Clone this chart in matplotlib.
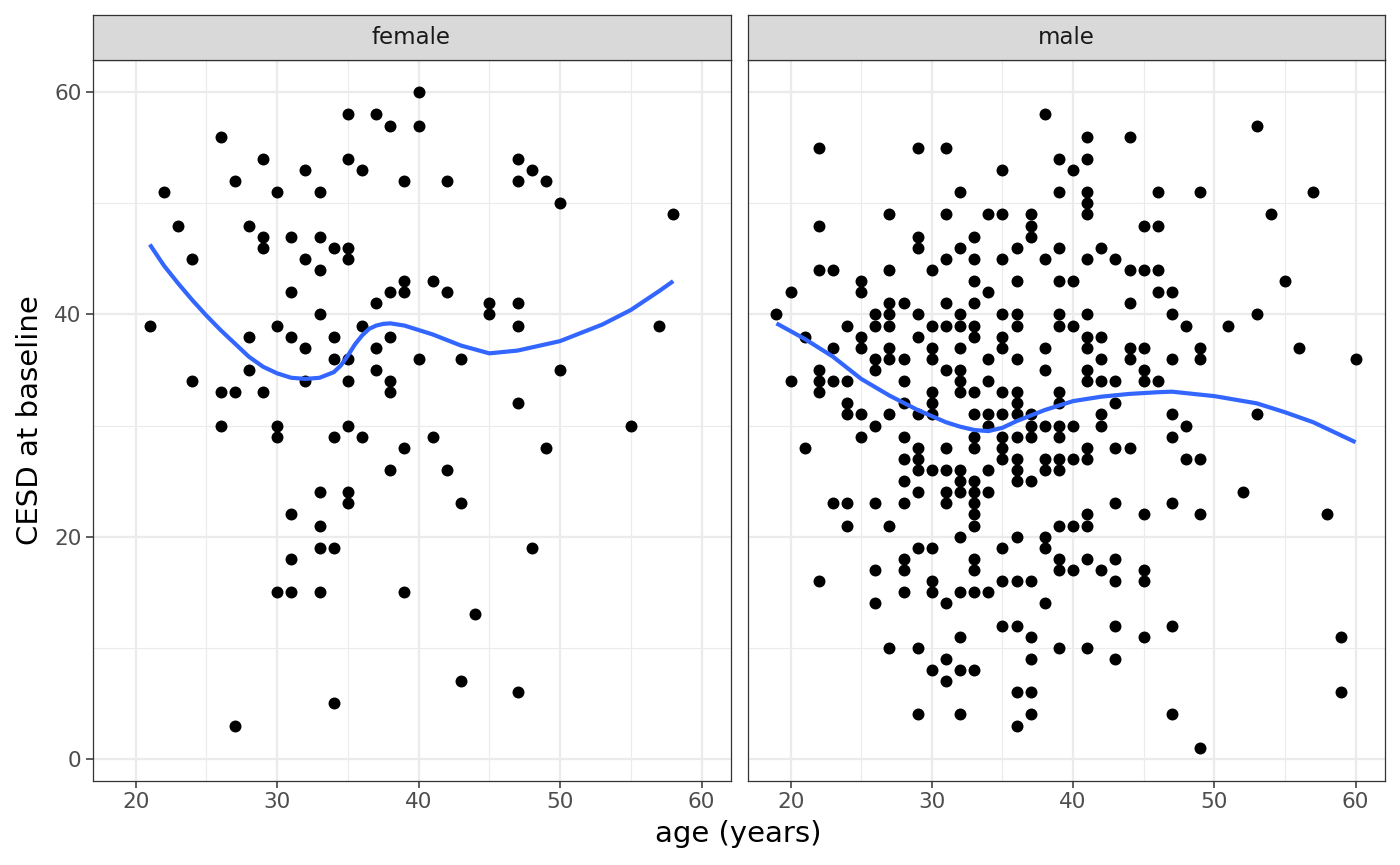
import numpy as np
import matplotlib
matplotlib.use("Agg")
import matplotlib.pyplot as plt
from matplotlib.ticker import MultipleLocator

# ---------------- data ----------------
panel_labels = ["female", "male"]

female_ages = [21, 22, 23, 24, 26, 27, 28, 29, 30, 31, 32, 33, 34, 35, 36, 37, 38,
               39, 40, 41, 42, 43, 44, 45, 47, 48, 49, 50, 55, 57, 58]
female_cesd_by_age = [
    [39], [51], [48], [45, 34], [56, 33, 30], [52, 33, 3], [48, 38, 35],
    [54, 47, 46, 33], [51, 39, 30, 29, 15], [47, 42, 38, 22, 18, 15],
    [53, 45, 37, 34], [51, 47, 44, 40, 24, 21, 19, 15], [46, 38, 36, 29, 19, 5],
    [58, 54, 46, 45, 36, 34, 30, 24, 23], [53, 39, 29], [58, 41, 37, 35],
    [57, 42, 38, 34, 33, 26], [52, 43, 42, 28, 15], [60, 57, 36], [43, 29],
    [52, 42, 26], [36, 23, 7], [13], [41, 40], [54, 52, 41, 39, 32, 6],
    [53, 19], [52, 28], [50, 35], [30], [39], [49],
]

male_ages = [19, 20, 21, 22, 23, 24, 25, 26, 27, 28, 29, 30, 31, 32, 33, 34, 35,
             36, 37, 38, 39, 40, 41, 42, 43, 44, 45, 46, 47, 48, 49, 51, 52, 53,
             54, 55, 56, 57, 58, 59, 60]
male_cesd_by_age = [
    [40],
    [42, 34],
    [38, 28],
    [55, 48, 44, 35, 34, 33, 16],
    [44, 37, 34, 23],
    [39, 34, 32, 31, 23, 21],
    [43, 42, 38, 37, 31, 29],
    [40, 39, 36, 35, 30, 23, 17, 14],
    [49, 44, 41, 40, 39, 37, 36, 31, 21, 10],
    [41, 36, 34, 32, 29, 27, 25, 23, 18, 17, 15],
    [55, 47, 46, 40, 38, 31, 28, 27, 26, 24, 19, 10, 4],
    [44, 39, 37, 36, 33, 32, 31, 26, 19, 16, 15, 8],
    [55, 49, 45, 41, 39, 35, 28, 26, 24, 23, 14, 9, 7],
    [51, 46, 40, 39, 37, 35, 34, 33, 26, 25, 24, 20, 15, 11, 8, 4],
    [47, 45, 43, 41, 39, 38, 33, 31, 29, 28, 25, 24, 23, 22, 21, 18, 17, 15, 8],
    [49, 42, 36, 34, 31, 30, 26, 24, 15],
    [53, 49, 45, 40, 38, 37, 33, 31, 29, 28, 27, 19, 16, 12],
    [46, 43, 40, 39, 36, 33, 32, 31, 29, 27, 26, 25, 20, 16, 12, 6, 3],
    [49, 48, 47, 31, 30, 29, 25, 16, 11, 9, 6, 4],
    [58, 45, 37, 35, 30, 27, 26, 20, 19, 14],
    [54, 51, 46, 43, 40, 39, 33, 32, 30, 29, 27, 26, 21, 18, 17, 10],
    [53, 43, 39, 30, 27, 21, 17],
    [56, 54, 51, 50, 49, 45, 40, 38, 37, 35, 34, 28, 27, 22, 21, 18, 10],
    [46, 38, 36, 34, 31, 30, 17],
    [45, 34, 32, 28, 23, 18, 16, 12, 9],
    [56, 44, 41, 37, 36, 28],
    [48, 44, 37, 35, 34, 22, 17, 16, 11],
    [51, 48, 44, 42, 34],
    [42, 40, 36, 31, 29, 23, 12, 4],
    [39, 30, 27],
    [51, 37, 36, 27, 22, 1],
    [39], [24], [57, 40, 31], [49], [43], [37], [51], [22], [11, 6], [36],
]

# loess smooth curves
female_smooth_age = [21, 22, 23, 24, 25, 26, 27, 28, 29, 30, 31, 32, 33, 34, 34.5,
                     35, 35.5, 36, 36.5, 37, 37.5, 38, 39, 40, 41, 43, 45, 47, 50,
                     53, 55, 57, 58]
female_smooth_cesd = [46.3, 44.4, 42.8, 41.3, 39.9, 38.6, 37.4, 36.2, 35.3, 34.7,
                      34.3, 34.2, 34.3, 34.8, 35.4, 36.3, 37.3, 38.1, 38.7, 39.0,
                      39.15, 39.2, 39.0, 38.6, 38.2, 37.2, 36.5, 36.75, 37.6, 39.1,
                      40.4, 42.1, 43.0]
male_smooth_age = [19, 21, 23, 25, 27, 29, 31, 32, 33, 34, 35, 36, 38, 40, 42, 44,
                   46, 47, 50, 53, 55, 57, 58, 59, 60]
male_smooth_cesd = [39.2, 37.8, 36.2, 34.2, 32.7, 31.4, 30.3, 29.9, 29.6, 29.5,
                    29.8, 30.4, 31.4, 32.2, 32.6, 32.85, 33.0, 33.05, 32.65, 32.0,
                    31.2, 30.3, 29.7, 29.1, 28.5]

x_ticks = [20, 30, 40, 50, 60]
y_ticks = [0, 20, 40, 60]
x_title = "age (years)"
y_title = "CESD at baseline"


def flatten(ages, groups):
    a = np.concatenate([np.full(len(g), age) for age, g in zip(ages, groups)])
    c = np.concatenate([np.asarray(g, dtype=float) for g in groups])
    return a, c


fa, fc = flatten(female_ages, female_cesd_by_age)
ma, mc = flatten(male_ages, male_cesd_by_age)

panels = [
    (fa, fc, female_smooth_age, female_smooth_cesd),
    (ma, mc, male_smooth_age, male_smooth_cesd),
]

# ---------------- layout ----------------
W, H = 1400, 865
fig = plt.figure(figsize=(W / 100, H / 100), dpi=100)
fig.patch.set_facecolor("white")


def rect(x0, y0, x1, y1):
    return [x0 / W, 1 - y1 / H, (x1 - x0) / W, (y1 - y0) / H]


panel_x = [(92.5, 730.5), (747.5, 1384.5)]
panel_top, panel_bot = 59.5, 780.5
strip_top = 15

all_a = np.concatenate([fa, ma])
all_c = np.concatenate([fc, mc])
xr = all_a.max() - all_a.min()
yr = all_c.max() - all_c.min()
xlim = (all_a.min() - 0.05 * xr, all_a.max() + 0.05 * xr)
ylim = (all_c.min() - 0.05 * yr, all_c.max() + 0.05 * yr)

border_col = "#333333"
tick_lab_col = "#4D4D4D"

for i, ((x0, x1), (a, c, sa, sc), lab) in enumerate(zip(panel_x, panels, panel_labels)):
    ax = fig.add_axes(rect(x0, panel_top, x1, panel_bot))
    ax.set_xlim(*xlim)
    ax.set_ylim(*ylim)
    ax.set_axisbelow(True)
    ax.xaxis.set_major_locator(MultipleLocator(10))
    ax.xaxis.set_minor_locator(MultipleLocator(5))
    ax.yaxis.set_major_locator(MultipleLocator(20))
    ax.yaxis.set_minor_locator(MultipleLocator(10))
    ax.set_xticks(x_ticks)
    ax.set_yticks(y_ticks)
    ax.grid(which="major", color="#EBEBEB", linewidth=1.6)
    ax.grid(which="minor", color="#EBEBEB", linewidth=0.8)
    for s in ax.spines.values():
        s.set_color(border_col)
        s.set_linewidth(0.9)
    ax.tick_params(which="minor", length=0)
    ax.tick_params(axis="both", which="major", length=5, width=1.1, color=border_col,
                   labelsize=15.5, labelcolor=tick_lab_col, pad=3)
    if i > 0:
        ax.tick_params(axis="y", which="major", length=0, labelleft=False)

    ax.scatter(a, c, s=74, color="black", linewidths=0, zorder=3)
    ax.plot(sa, sc, color="#3366FF", linewidth=3.0, zorder=4, solid_capstyle="butt",
            solid_joinstyle="round")

    sax = fig.add_axes(rect(x0, strip_top, x1, panel_top))
    sax.set_facecolor("#D9D9D9")
    sax.set_xticks([])
    sax.set_yticks([])
    for s in sax.spines.values():
        s.set_color(border_col)
        s.set_linewidth(0.9)
    sax.text(0.5, 0.5, lab, transform=sax.transAxes, ha="center", va="center",
             fontsize=16.5, color="#1A1A1A")

fig.text(738 / W, 1 - 834 / H, x_title, ha="center", va="center", fontsize=21,
         color="black")
fig.text(30 / W, 1 - 420 / H, y_title, ha="center", va="center", rotation=90,
         fontsize=21, color="black")

fig.savefig("out.png", dpi=100, facecolor="white")
